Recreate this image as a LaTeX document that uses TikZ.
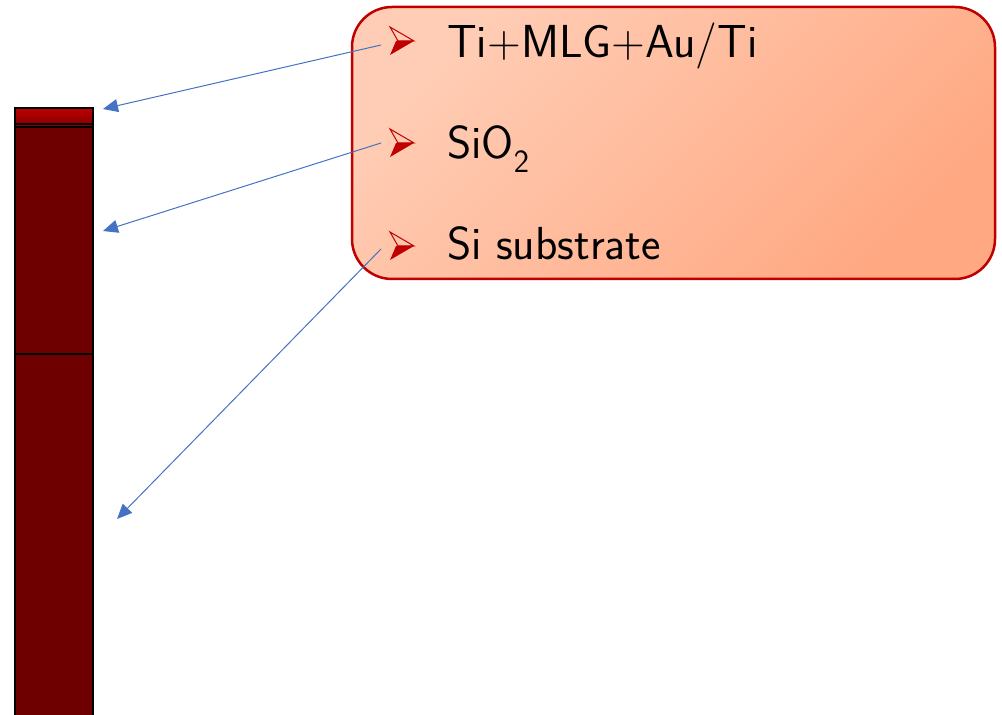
\documentclass[tikz,border=0pt]{standalone}
\usetikzlibrary{arrows.meta}
\definecolor{layerred}{HTML}{6E0000}
\definecolor{toptop}{HTML}{C00000}
\definecolor{topbot}{HTML}{8A0000}
\definecolor{boxline}{HTML}{C00000}
\definecolor{boxlight}{HTML}{FFCDB5}
\definecolor{boxdark}{HTML}{FFA882}
\definecolor{arrowblue}{HTML}{4472C4}
\definecolor{bulletred}{HTML}{C00000}
\tikzset{
  layer/.style={fill=layerred},
  border/.style={draw=black, line width=1.3pt},
  ptr/.style={draw=arrowblue, line width=1pt, -{Triangle[length=15pt,width=13pt]}},
  label/.style={anchor=base west, inner sep=0pt, font=\fontsize{46.3}{52}\selectfont\sffamily},
  panel/.style={draw=boxline, line width=2.5pt, rounded corners=40pt},
}
\newcommand{\bulletmark}[1]{%
  \begin{scope}[shift={(#1)}]
    \draw[bulletred, line width=1pt, line join=miter] (-12,14)--(12,0)--(-4,0)--cycle;
    \fill[bulletred] (-4,0)--(12,0)--(-12,-14)--(-6,0)--cycle;
  \end{scope}}
\begin{document}
\begin{tikzpicture}[x=1pt,y=1pt]
\useasboundingbox (0,0) rectangle (1002,715);
% layered bar
\fill[layer] (15,0) rectangle (93,588);
\shade[top color=toptop, bottom color=topbot] (15,591) rectangle (93,607);
\fill[topbot] (15,588) rectangle (93,591);
\draw[border] (15,0) -- (15,607) -- (93,607) -- (93,0);
\draw[border] (15,591) -- (93,591);
\draw[border] (15,588) -- (93,588);
\draw[border] (15,361) -- (93,361);
\coordinate (t1) at (103,606);
\coordinate (t2) at (103,484);
\coordinate (t3) at (117,196);
% panel
\shade[rounded corners=40pt, left color=boxlight, right color=boxdark, shading angle=45] (352,436) rectangle (995,708);
\draw[panel] (352,436) rectangle (995,708);
\bulletmark{402,674}
\bulletmark{402,572}
\bulletmark{402,469}
\node[label] (l1) at (447,657) {Ti+MLG+Au/Ti};
\node[label] (l2) at (447,556) {SiO\textsubscript{2}};
\node[label] (l3) at (447,455) {Si substrate};
\coordinate (s1) at (381,670);
\coordinate (s2) at (381,572);
\coordinate (s3) at (381,466);
\draw[ptr] (s1) -- (t1);
\draw[ptr] (s2) -- (t2);
\draw[ptr] (s3) -- (t3);
\end{tikzpicture}
\end{document}
